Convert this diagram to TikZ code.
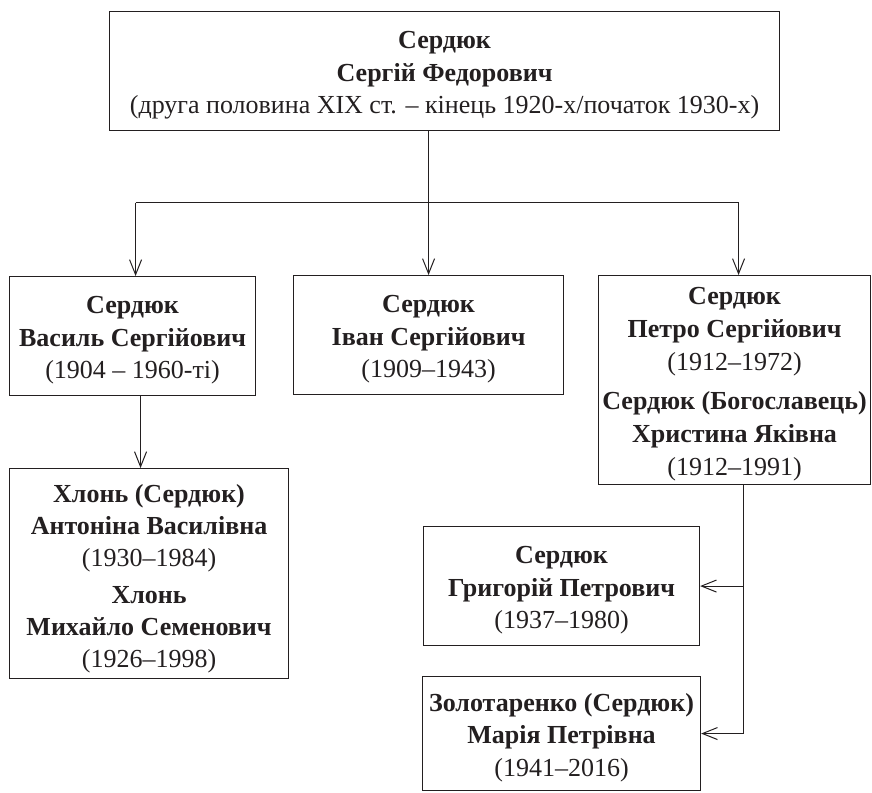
\documentclass[tikz,border=0pt]{standalone}
\usepackage{fontspec}
\setmainfont{Liberation Serif}
\usetikzlibrary{arrows.meta}
\definecolor{ink}{RGB}{35,31,32}
\newcommand\lift[1][26pt]{\rule{0pt}{#1}}
\begin{document}
\begin{tikzpicture}[x=1pt,y=-1pt,
  box/.style={draw=ink, line width=1.1pt, anchor=north west, inner sep=0pt,
    align=center, text=ink, font=\fontsize{26}{32.5}\selectfont},
  link/.style={draw=ink, line width=1.1pt},
  arr/.style={link, -{Straight Barb[length=15pt,width=12pt,line width=1pt]}}]
\useasboundingbox (0,0) rectangle (872,792);
\node[box, minimum width=670pt, minimum height=119pt] (top) at (109,11)
  {\lift\textbf{Сердюк}\\ \textbf{Сергій Федорович}\\ (друга половина XIX ст. – кінець 1920-х/початок 1930-х)};
\node[box, minimum width=246pt, minimum height=119pt] (vasyl) at (9,276)
  {\lift\textbf{Сердюк}\\ \textbf{Василь Сергійович}\\ (1904 – 1960-ті)};
\node[box, minimum width=270pt, minimum height=119pt] (ivan) at (293,275)
  {\lift\textbf{Сердюк}\\ \textbf{Іван Сергійович}\\ (1909–1943)};
\node[box, font=\fontsize{26}{33}\selectfont, minimum width=272pt, minimum height=209pt] (petro) at (598,275)
  {\lift[25pt]\textbf{Сердюк}\\ \textbf{Петро Сергійович}\\ (1912–1972)\\[6pt]
   \textbf{Сердюк (Богославець)}\\ \textbf{Христина Яківна}\\ (1912–1991)};
\node[box, font=\fontsize{26}{32}\selectfont, minimum width=279pt, minimum height=210pt] (khlon) at (9,468)
  {\lift[28pt]\textbf{Хлонь (Сердюк)}\\ \textbf{Антоніна Василівна}\\ (1930–1984)\\[5pt]
   \textbf{Хлонь}\\ \textbf{Михайло Семенович}\\ (1926–1998)};
\node[box, minimum width=276pt, minimum height=119pt] (hryh) at (423,526)
  {\lift\textbf{Сердюк}\\ \textbf{Григорій Петрович}\\ (1937–1980)};
\node[box, minimum width=278pt, minimum height=114pt] (maria) at (422,676)
  {\lift\textbf{Золотаренко (Сердюк)}\\ \textbf{Марія Петрівна}\\ (1941–2016)};
\coordinate (bar) at (0,202.5);
\draw[link] ([xshift=3pt]vasyl.north |- bar) -- ([xshift=4pt]petro.north |- bar);
\draw[arr] (top.south -| ivan.north) -- (ivan.north);
\draw[arr] ([xshift=3pt]vasyl.north |- bar) -- ([xshift=3pt]vasyl.north);
\draw[arr] ([xshift=4pt]petro.north |- bar) -- ([xshift=4pt]petro.north);
\draw[arr] ([xshift=8pt]vasyl.south) -- ([xshift=8pt]vasyl.south |- khlon.north);
\draw[arr] ([xshift=9pt]petro.south) |- (maria.east);
\draw[arr] ([xshift=9pt]petro.south |- hryh.east) -- (hryh.east);
\end{tikzpicture}
\end{document}
